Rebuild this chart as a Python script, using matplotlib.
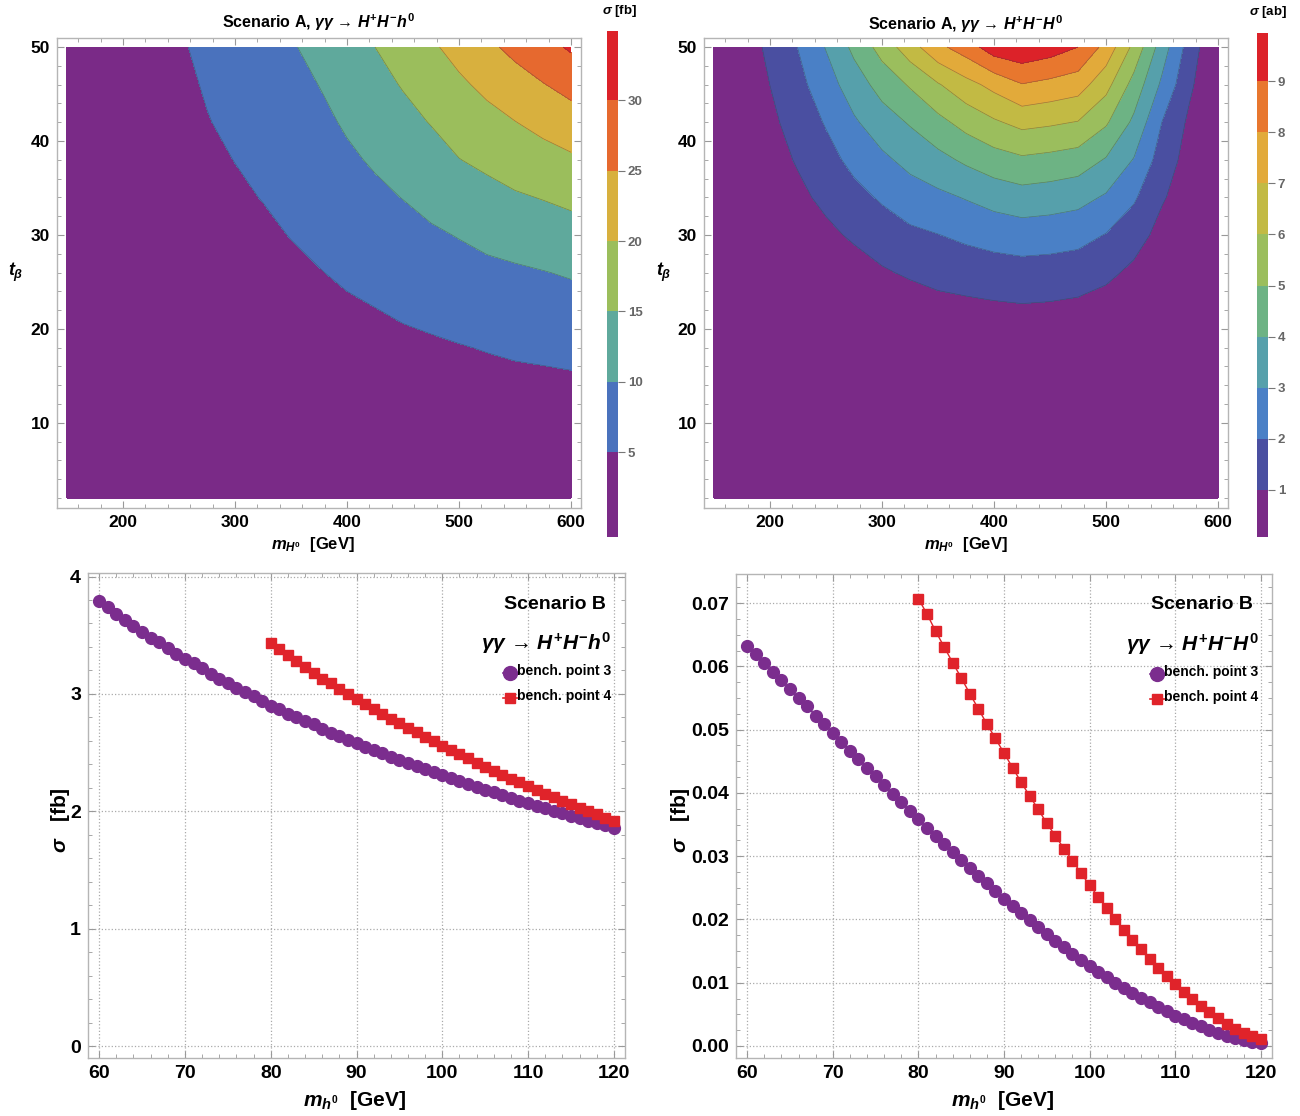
import matplotlib
matplotlib.use("Agg")
import matplotlib.pyplot as plt
from matplotlib.ticker import MultipleLocator

plt.rcParams['font.family'] = ['Liberation Sans', 'DejaVu Sans']
plt.rcParams['font.weight'] = 'bold'
plt.rcParams['mathtext.fontset'] = 'custom'
plt.rcParams['mathtext.rm'] = 'Liberation Sans:bold'
plt.rcParams['mathtext.it'] = 'Liberation Sans:italic:bold'
plt.rcParams['mathtext.bf'] = 'Liberation Sans:bold'

W, H = 1300, 1116

# ---- Scenario A, gamma gamma -> H+ H- h0  (sigma in fb) ----
m_grid = [150, 175, 200, 225, 250, 275, 300, 325, 350, 375,
          400, 425, 450, 475, 500, 525, 550, 575, 600]
tb_grid_h = [2, 6, 10, 14, 18, 22, 26, 30, 34, 38, 42, 46, 50]
sigma_h = [
    [0.2, 0.2, 0.2, 0.2, 0.3, 0.3, 0.3, 0.3, 0.3, 0.3, 0.4, 0.4, 0.4, 0.4, 0.4, 0.5, 0.5, 0.5, 0.6],
    [0.4, 0.5, 0.6, 0.6, 0.7, 0.7, 0.8, 0.8, 0.9, 0.9, 1.0, 1.0, 1.1, 1.1, 1.2, 1.3, 1.3, 1.4, 1.5],
    [0.6, 0.7, 0.9, 1.0, 1.1, 1.3, 1.4, 1.5, 1.6, 1.7, 1.8, 1.9, 2.0, 2.1, 2.3, 2.4, 2.5, 2.6, 2.7],
    [0.8, 0.9, 1.1, 1.3, 1.5, 1.7, 1.9, 2.0, 2.2, 2.4, 2.6, 2.8, 3.0, 3.2, 3.5, 3.7, 3.9, 4.0, 4.2],
    [1.0, 1.1, 1.4, 1.6, 1.9, 2.2, 2.4, 2.6, 2.9, 3.1, 3.4, 3.7, 4.1, 4.4, 4.8, 5.2, 5.6, 5.9, 6.2],
    [1.1, 1.3, 1.6, 1.9, 2.2, 2.6, 2.9, 3.2, 3.6, 4.0, 4.4, 4.9, 5.5, 6.05, 6.6, 7.1, 7.5, 7.9, 8.2],
    [1.2, 1.5, 1.8, 2.1, 2.5, 3.1, 3.4, 3.8, 4.3, 4.85, 5.6, 6.3, 7.0, 7.7, 8.4, 9.0, 9.4, 9.85, 10.4],
    [1.4, 1.6, 2.0, 2.4, 2.8, 3.5, 3.9, 4.4, 5.1, 5.9, 6.8, 7.7, 8.5, 9.4, 10.2, 11.1, 11.8, 12.5, 13.2],
    [1.5, 1.8, 2.2, 2.6, 3.2, 4.0, 4.5, 5.1, 6.0, 6.9, 8.0, 9.1, 10.1, 11.3, 12.6, 13.5, 14.5, 15.2, 16.0],
    [1.6, 1.9, 2.4, 2.9, 3.5, 4.4, 5.05, 5.9, 6.9, 8.0, 9.3, 10.5, 11.8, 13.2, 14.9, 16.0, 17.2, 18.2, 19.3],
    [1.7, 2.1, 2.6, 3.2, 3.9, 4.85, 5.7, 6.7, 7.8, 9.0, 10.5, 12.0, 13.6, 15.2, 17.0, 18.5, 19.9, 21.4, 22.8],
    [1.8, 2.2, 2.8, 3.4, 4.2, 5.3, 6.35, 7.5, 8.7, 10.05, 11.8, 13.5, 15.3, 17.3, 19.2, 21.1, 23.0, 24.8, 26.6],
    [1.9, 2.4, 3.0, 3.7, 4.6, 5.8, 7.0, 8.3, 9.6, 11.3, 13.1, 15.0, 17.2, 19.3, 21.6, 24.0, 26.3, 28.5, 30.6],
]
levels_h = [-2, 5, 10, 15, 20, 25, 30, 40]
colors_h = ['#7a2a87', '#4a72bd', '#5fa99c', '#9bbe5c', '#d8b03e', '#e6692f', '#dc2229']

# ---- Scenario A, gamma gamma -> H+ H- H0  (sigma in ab) ----
tb_grid_H = [2, 10, 18, 22, 26, 30, 34, 38, 42, 46, 50]
sigma_H = [
    [0, 0, 0, 0, 0, 0, 0, 0, 0, 0, 0, 0, 0, 0, 0, 0, 0, 0, 0],
    [0.02, 0.04, 0.06, 0.07, 0.08, 0.1, 0.12, 0.13, 0.16, 0.18, 0.2, 0.21, 0.2, 0.18, 0.15, 0.12, 0.08, 0.05, 0],
    [0.05, 0.1, 0.16, 0.2, 0.25, 0.28, 0.3, 0.33, 0.45, 0.5, 0.55, 0.58, 0.55, 0.5, 0.35, 0.35, 0.22, 0.14, 0],
    [0.06, 0.14, 0.22, 0.3, 0.35, 0.4, 0.4, 0.45, 0.65, 0.73, 0.81, 0.87, 0.83, 0.74, 0.51, 0.5, 0.32, 0.2, 0],
    [0.08, 0.18, 0.29, 0.4, 0.5, 0.58, 0.89, 1.13, 1.32, 1.45, 1.56, 1.62, 1.58, 1.49, 1.24, 0.77, 0.45, 0.27, 0],
    [0.1, 0.22, 0.37, 0.55, 0.785, 1.14, 1.5, 1.8, 1.98, 2.19, 2.37, 2.5, 2.44, 2.32, 1.96, 1.43, 0.66, 0.35, 0],
    [0.12, 0.26, 0.47, 0.785, 1.22, 1.69, 2.12, 2.53, 2.78, 3.06, 3.38, 3.59, 3.49, 3.33, 2.88, 2.12, 1.1, 0.45, 0],
    [0.14, 0.3, 0.6, 1.09, 1.65, 2.27, 2.8, 3.29, 3.71, 4.17, 4.58, 4.84, 4.71, 4.53, 3.92, 2.94, 1.54, 0.6, 0],
    [0.16, 0.34, 0.79, 1.4, 2.08, 2.87, 3.55, 4.09, 4.72, 5.35, 5.87, 6.29, 6.15, 5.96, 5.13, 3.79, 1.99, 0.79, 0],
    [0.18, 0.39, 1.005, 1.71, 2.56, 3.51, 4.37, 5.1, 5.92, 6.66, 7.3, 7.96, 7.72, 7.46, 6.34, 4.63, 2.81, 1.16, 0],
    [0.2, 0.44, 1.22, 2.02, 3.05, 4.23, 5.38, 6.57, 7.76, 8.5, 9.55, 9.8, 9.5, 9.0, 7.67, 5.73, 3.5, 1.53, 0],
]
levels_H = [-1, 1, 2, 3, 4, 5, 6, 7, 8, 9, 11]
colors_H = ['#7a2a87', '#4a4fa1', '#4a80c6', '#56a0ab', '#6db384', '#9bbe5d',
            '#c2ba44', '#e2aa3a', '#e8772e', '#dc2229']

# ---- Scenario B, sigma vs m_h0 ----
mh_bp3 = list(range(60, 121))
mh_bp4 = list(range(80, 121))
sigma_h_bp3 = [3.79, 3.74, 3.68, 3.63, 3.58, 3.53, 3.48, 3.44, 3.39, 3.34,
               3.30, 3.26, 3.22, 3.17, 3.13, 3.09, 3.05, 3.02, 2.98, 2.94,
               2.90, 2.87, 2.83, 2.80, 2.77, 2.74, 2.70, 2.67, 2.64, 2.61,
               2.58, 2.551, 2.523, 2.495, 2.467, 2.440, 2.413, 2.386, 2.360, 2.334,
               2.308, 2.283, 2.258, 2.233, 2.209, 2.185, 2.161, 2.138, 2.115, 2.092,
               2.070, 2.048, 2.026, 2.005, 1.984, 1.963, 1.942, 1.922, 1.902, 1.882,
               1.862]
sigma_h_bp4 = [3.43, 3.38, 3.33, 3.28, 3.23, 3.18, 3.13, 3.09, 3.04, 3.00,
               2.955, 2.913, 2.872, 2.831, 2.791, 2.751, 2.712, 2.673, 2.635, 2.597,
               2.560, 2.523, 2.487, 2.451, 2.416, 2.381, 2.347, 2.313, 2.280, 2.247,
               2.215, 2.183, 2.152, 2.121, 2.091, 2.061, 2.032, 2.003, 1.975, 1.947,
               1.919]
sigma_H_bp3 = [0.0632, 0.0619, 0.0605, 0.0591, 0.0578, 0.0564, 0.0550, 0.0537, 0.0522, 0.0509,
               0.0495, 0.0481, 0.0467, 0.0453, 0.0440, 0.0426, 0.0412, 0.0399, 0.0385, 0.0372,
               0.0358, 0.0345, 0.0332, 0.0319, 0.0306, 0.0294, 0.0281, 0.0269, 0.0257, 0.0245,
               0.0233, 0.0221, 0.0210, 0.0199, 0.0188, 0.0177, 0.0166, 0.0156, 0.0145, 0.0136,
               0.0127, 0.0117, 0.0109, 0.0100, 0.0092, 0.0084, 0.0076, 0.0069, 0.0062, 0.0055,
               0.0048, 0.0042, 0.0036, 0.0031, 0.0025, 0.0021, 0.0016, 0.0012, 0.0009, 0.0006,
               0.0004]
sigma_H_bp4 = [0.0707, 0.0683, 0.0656, 0.0631, 0.0606, 0.0582, 0.0557, 0.0533, 0.0509, 0.0486,
               0.0463, 0.0440, 0.0417, 0.0395, 0.0374, 0.0352, 0.0332, 0.0312, 0.0293, 0.0273,
               0.0254, 0.0236, 0.0218, 0.0201, 0.0184, 0.0168, 0.0153, 0.0138, 0.0124, 0.0110,
               0.0098, 0.0085, 0.0074, 0.0063, 0.0053, 0.0044, 0.0035, 0.0027, 0.0021, 0.0015,
               0.0011]

purple = '#7b2d8e'
red = '#e0232a'
frame_gray = '#b5b5b5'


def px_rect(x0, y0, x1, y1):                       # pixel box (top-left origin) -> fig fraction
    return [x0 / W, 1 - y1 / H, (x1 - x0) / W, (y1 - y0) / H]


def ftext(x, y, s, **kw):                          # figure text at pixel position
    fig.text(x / W, 1 - y / H, s, ha='center', va='center', **kw)


def style_frame(ax, size):
    for sp in ax.spines.values():
        sp.set_color(frame_gray)
        sp.set_linewidth(1.0)
    ax.tick_params(which='both', direction='in', color='#999999', top=True, right=True,
                   labeltop=False, labelright=False)
    ax.tick_params(which='major', length=5, labelsize=size, pad=5)
    ax.tick_params(which='minor', length=3)
    for lab in ax.get_xticklabels() + ax.get_yticklabels():
        lab.set_fontweight('bold')


def contour_panel(rect, cbar_rect, grid_t, z, levels, colors, cb_ticks, cb_lim):
    ax = fig.add_axes(rect)
    cs = ax.contourf(m_grid, grid_t, z, levels=levels, colors=colors)
    ax.contour(m_grid, grid_t, z, levels=levels[1:-1], colors='#404040',
               linewidths=0.5, alpha=0.45)
    ax.set_xlim(141.1, 608.9)
    ax.set_ylim(0.94, 50.96)
    ax.xaxis.set_major_locator(MultipleLocator(100))
    ax.xaxis.set_minor_locator(MultipleLocator(20))
    ax.yaxis.set_major_locator(MultipleLocator(10))
    ax.yaxis.set_minor_locator(MultipleLocator(2))
    style_frame(ax, 12.5)
    cax = fig.add_axes(cbar_rect)
    cb = fig.colorbar(cs, cax=cax, spacing='proportional')
    cb.outline.set_visible(False)
    cb.set_ticks(cb_ticks)
    cax.set_ylim(*cb_lim)
    cax.tick_params(length=5, color='#777777', labelcolor='#666666', labelsize=9.5, pad=2)
    for lab in cax.get_yticklabels():
        lab.set_fontweight('bold')
    return ax


def line_panel(rect, y3, y4, ylim, ymajor, yminor, fmt, title, leg_x):
    ax = fig.add_axes(rect)
    ax.plot(mh_bp3, y3, color=purple, lw=1, marker='o', ms=8.5, zorder=3)
    ax.plot(mh_bp4, y4, color=red, lw=1, marker='s', ms=6.5, zorder=3)
    ax.set_xlim(58.7, 121.3)
    ax.set_ylim(*ylim)
    ax.xaxis.set_major_locator(MultipleLocator(10))
    ax.xaxis.set_minor_locator(MultipleLocator(2))
    ax.yaxis.set_major_locator(MultipleLocator(ymajor))
    ax.yaxis.set_minor_locator(MultipleLocator(yminor))
    ax.yaxis.set_major_formatter(fmt)
    ax.grid(True, which='major', color='#aaaaaa', linestyle=':', linewidth=0.9)
    style_frame(ax, 14)
    ax.text(0.965, 0.936, 'Scenario B', transform=ax.transAxes, ha='right', va='center',
            fontsize=14, fontweight='bold')
    ax.text(0.975, 0.855, title, transform=ax.transAxes, ha='right', va='center', fontsize=15)
    for yy, col, mk, ms, lab in [(0.794, purple, 'o', 10, 'bench. point 3'),
                                 (0.742, red, 's', 6.5, 'bench. point 4')]:
        ax.plot([leg_x - 0.028, leg_x], [yy, yy], color=col, lw=1.2, transform=ax.transAxes,
                clip_on=False)
        ax.plot([leg_x - 0.014], [yy], color=col, marker=mk, ms=ms, transform=ax.transAxes,
                clip_on=False)
        ax.text(leg_x - 0.002, yy + 0.004, lab, transform=ax.transAxes, ha='left', va='center',
                fontsize=10, fontweight='bold')
    return ax


fig = plt.figure(figsize=(W / 100, H / 100), dpi=100)

contour_panel(px_rect(57, 38, 581, 508), px_rect(607, 31, 618, 537),
              tb_grid_h, sigma_h, levels_h, colors_h, [5, 10, 15, 20, 25, 30], (-1, 34.9))
contour_panel(px_rect(704, 38, 1228, 508), px_rect(1257, 33, 1268, 537),
              tb_grid_H, sigma_H, levels_H, colors_H, list(range(1, 10)), (0.07, 9.95))

ftext(319, 22, 'Scenario A, $\\gamma\\gamma$ \u2192 $H^{+}H^{-}h^{0}$', fontsize=11.5)
ftext(966, 24, 'Scenario A, $\\gamma\\gamma$ \u2192 $H^{+}H^{-}H^{0}$', fontsize=11.5)
ftext(313, 545, r'$m_{H^0}$  [GeV]', fontsize=12)
ftext(966, 545, r'$m_{H^0}$  [GeV]', fontsize=12)
ftext(16, 272, r'$t_\beta$', fontsize=13)
ftext(664, 272, r'$t_\beta$', fontsize=13)
ftext(620, 11, r'$\sigma$ [fb]', fontsize=9.5)
ftext(1268, 12, r'$\sigma$ [ab]', fontsize=9.5)

line_panel(px_rect(88, 573, 625, 1058), sigma_h_bp3, sigma_h_bp4, (-0.1, 4.03), 1, 0.2,
           '{x:.0f}', '$\\gamma\\gamma$ \u2192 $H^{+}H^{-}h^{0}$', 0.80)
line_panel(px_rect(736, 574, 1272, 1058), sigma_H_bp3, sigma_H_bp4, (-0.0019, 0.0746),
           0.01, 0.0025, '{x:.2f}', '$\\gamma\\gamma$ \u2192 $H^{+}H^{-}H^{0}$', 0.80)

ftext(355, 1100, r'$m_{h^0}$  [GeV]', fontsize=15)
ftext(1003, 1100, r'$m_{h^0}$  [GeV]', fontsize=15)
fig.text(60 / W, 1 - 820 / H, r'$\sigma$   [fb]', rotation=90, ha='center', va='center',
         fontsize=15)
fig.text(680 / W, 1 - 820 / H, r'$\sigma$   [fb]', rotation=90, ha='center', va='center',
         fontsize=15)

fig.savefig('out.png', dpi=100)
